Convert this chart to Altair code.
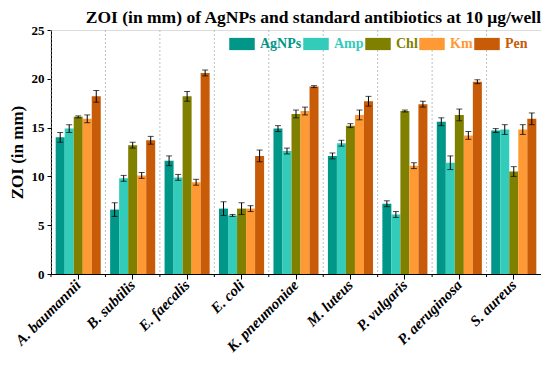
import altair as alt
import pandas as pd

species = ["A. baumannii", "B. subtilis", "E. faecalis", "E. coli", "K. pneumoniae",
           "M. luteus", "P. vulgaris", "P. aeruginosa", "S. aureus"]
series = ["AgNPs", "Amp", "Chl", "Km", "Pen"]
colors = ["#009688", "#33CCBB", "#808000", "#FF9933", "#C75B08"]

agnps = [14.0, 6.6, 11.6, 6.7, 14.9, 12.1, 7.2, 15.6, 14.7]
agnps_err = [0.5, 0.7, 0.5, 0.7, 0.3, 0.3, 0.3, 0.4, 0.2]
amp = [14.9, 9.8, 9.9, 6.0, 12.6, 13.4, 6.1, 11.4, 14.8]
amp_err = [0.4, 0.3, 0.3, 0.1, 0.3, 0.3, 0.3, 0.7, 0.5]
chl = [16.1, 13.2, 18.2, 6.7, 16.4, 15.2, 16.7, 16.3, 10.5]
chl_err = [0.1, 0.3, 0.5, 0.6, 0.4, 0.2, 0.1, 0.6, 0.5]
km = [15.9, 10.1, 9.4, 6.7, 16.7, 16.3, 11.1, 14.2, 14.8]
km_err = [0.4, 0.3, 0.3, 0.3, 0.4, 0.5, 0.3, 0.4, 0.5]
pen = [18.2, 13.7, 20.6, 12.1, 19.2, 17.7, 17.4, 19.7, 15.9]
pen_err = [0.6, 0.4, 0.3, 0.6, 0.1, 0.5, 0.3, 0.2, 0.6]

vals = [agnps, amp, chl, km, pen]
errs = [agnps_err, amp_err, chl_err, km_err, pen_err]
rows = []
for s, v, e in zip(series, vals, errs):
    for sp, vi, ei in zip(species, v, e):
        rows.append({"species": sp, "series": s, "value": vi, "lo": vi - ei, "hi": vi + ei})
df = pd.DataFrame(rows)
cats = pd.DataFrame({"species": species})

FONT = "Liberation Serif"
W, H = 490, 244

xscale = alt.Scale(domain=species, paddingInner=0, paddingOuter=0)
offscale = alt.Scale(domain=series, paddingInner=0, paddingOuter=0.52)
yscale = alt.Scale(domain=[0, 25], nice=False)

label_expr = " : ".join(
    [f"datum.value == '{s}' ? '{c}'" for s, c in zip(series, colors)]) + " : 'black'"

grid = alt.Chart(cats).mark_rule(color="#b0b0b0", strokeDash=[2, 2], strokeWidth=0.8).encode(
    x=alt.X("species:N", scale=xscale, bandPosition=0, sort=species),
)
minor = alt.Chart(cats).mark_rule(color="black", strokeWidth=1).encode(
    x=alt.X("species:N", scale=xscale, bandPosition=0, sort=species),
    y=alt.value(H), y2=alt.value(H + 3),
)

bars = alt.Chart(df).mark_bar(opacity=1).encode(
    x=alt.X("species:N", scale=xscale, sort=species,
            axis=alt.Axis(title=None, labelAngle=-45, labelFont=FONT, labelFontSize=15,
                          labelFontWeight="bold", labelFontStyle="italic", labelColor="black",
                          tickColor="black", tickSize=5, domainColor="black", labelPadding=3)),
    xOffset=alt.XOffset("series:N", scale=offscale, sort=series),
    y=alt.Y("value:Q", scale=yscale,
            axis=alt.Axis(title="ZOI (in mm)", titleFont=FONT, titleFontSize=17,
                          titleFontWeight="bold", titleColor="black",
                          values=[0, 2.5, 5, 7.5, 10, 12.5, 15, 17.5, 20, 22.5, 25],
                          labelExpr="datum.value % 5 == 0 ? datum.label : ''",
                          labelFont=FONT, labelFontSize=13, labelFontWeight="bold",
                          labelColor="black", tickColor="black", tickSize=4,
                          domainColor="black", grid=False, titlePadding=5,
                          labelPadding=3)),
    color=alt.Color("series:N", scale=alt.Scale(domain=series, range=colors),
                    legend=alt.Legend(title=None, orient="none", direction="horizontal",
                                      legendX=178, legendY=1, columns=5,
                                      symbolType="M-1,-0.48H1V0.48H-1Z", symbolSize=650,
                                      symbolStrokeWidth=0, symbolOpacity=1,
                                      labelFont=FONT, labelFontSize=14, labelFontWeight="bold",
                                      labelColor=alt.ExprRef(label_expr), labelOffset=5,
                                      columnPadding=1)),
)

rules = alt.Chart(df).mark_rule(color="black", strokeWidth=1).encode(
    x=alt.X("species:N", scale=xscale, sort=species),
    xOffset=alt.XOffset("series:N", scale=offscale, sort=series),
    y=alt.Y("lo:Q", scale=yscale),
    y2="hi:Q",
)
cap_lo = alt.Chart(df).mark_tick(color="black", thickness=1, size=6).encode(
    x=alt.X("species:N", scale=xscale, sort=species),
    xOffset=alt.XOffset("series:N", scale=offscale, sort=series),
    y=alt.Y("lo:Q", scale=yscale),
)
cap_hi = alt.Chart(df).mark_tick(color="black", thickness=1, size=6).encode(
    x=alt.X("species:N", scale=xscale, sort=species),
    xOffset=alt.XOffset("series:N", scale=offscale, sort=series),
    y=alt.Y("hi:Q", scale=yscale),
)

chart = alt.layer(grid, minor, bars, rules, cap_lo, cap_hi).properties(
    width=W, height=H,
    title=alt.TitleParams("ZOI (in mm) of AgNPs and standard antibiotics at 10 μg/well",
                          font=FONT, fontSize=17.5, fontWeight="bold", color="black",
                          anchor="end", frame="group", offset=-2),
    padding={"left": 0, "top": 0, "right": 0, "bottom": 0},
).configure_view(stroke="black", strokeWidth=1.2).configure(background="white")

chart.save("out.html", embed_options={"renderer": "svg", "actions": False})
